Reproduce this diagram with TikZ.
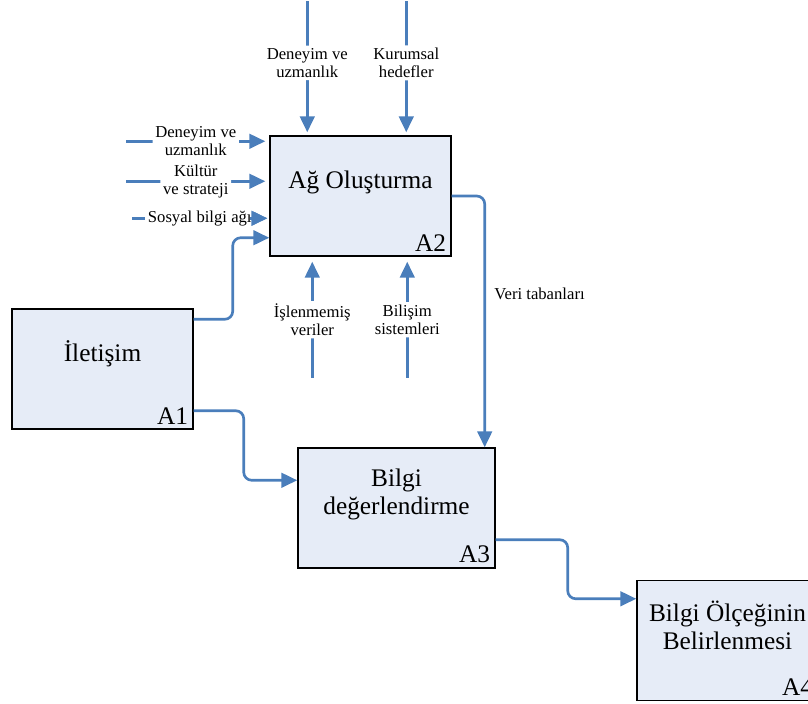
\documentclass[tikz,border=0pt]{standalone}
\usepackage{fontspec}
\setmainfont{Liberation Serif}
\usetikzlibrary{arrows.meta,calc,positioning}

\definecolor{flowblue}{HTML}{4A7EBB}
\definecolor{boxfill}{HTML}{E6ECF7}

\tikzset{
	actbox/.style={draw=black, line width=1.1pt, fill=boxfill, minimum width=181*0.75pt, minimum height=120*0.75pt, inner sep=0pt},
	acttitle/.style={align=center, font=\fontsize{19}{21}\selectfont},
	actnum/.style={anchor=south east, inner sep=4pt, font=\fontsize{19}{21}\selectfont},
	flow/.style={draw=flowblue, line width=2pt, rounded corners=6pt, -{Triangle[length=12pt,width=11pt]}},
	ctrl/.style={fill=white, align=center, inner sep=2pt, font=\fontsize{12.5}{13.5}\selectfont},
}

\begin{document}
\begin{tikzpicture}[x=0.75pt, y=-0.75pt]
			\clip (0,0) rectangle (808,704);
			
			% activity boxes
			\node[actbox] (ag) at (360.5,196) {};
			\node[actbox] (il) at (102.5,369) {};
			\node[actbox, minimum width=197*0.75pt] (bd) at (396.5,508) {};
			\node[actbox] (bo) at (727.5,640.5) {};
			
			\node[acttitle] (agt) at ($(ag.center)+(0,-14)$) {Ağ Oluşturma};
			\node[acttitle] (ilt) at ($(il.center)+(0,-15)$) {İletişim};
			\node[acttitle] (bdt) at ($(bd.center)+(0,-14)$) {Bilgi\\değerlendirme};
			\node[acttitle] (bot) at ($(bo.center)+(0,-15)$) {Bilgi Ölçeğinin\\Belirlenmesi};
			
			\node[actnum] (agn) at (ag.south east) {A2};
			\node[actnum] (iln) at (il.south east) {A1};
			\node[actnum] (bdn) at (bd.south east) {A3};
			\node[actnum] (bon) at (bo.south east) {A4};
			
			% free ends of the inputs
			\coordinate (topa) at ($(ag.north west)+(38,-134)$);
			\coordinate (topb) at ($(ag.north west)+(137,-134)$);
			\coordinate (lefta) at ($(ag.north west)+(-143,6)$);
			\coordinate (leftb) at ($(ag.north west)+(-143,46)$);
			\coordinate (leftc) at ($(ag.north west)+(-137,83)$);
			\coordinate (bota) at ($(ag.south west)+(43,121)$);
			\coordinate (botb) at ($(ag.south west)+(138,121)$);
			
			\draw[flow] (topa) -- node[ctrl, pos=0.47] (cdu) {Deneyim ve\\uzmanlık} ($(ag.north west)+(38,-3)$);
			\draw[flow] (topb) -- node[ctrl, pos=0.47] (ckh) {Kurumsal\\hedefler} ($(ag.north west)+(137,-3)$);
			
			\draw[flow] (lefta) -- node[ctrl] (ldu) {Deneyim ve\\uzmanlık} ($(ag.north west)+(-4,6)$);
			\draw[flow] (leftb) -- node[ctrl] (lks) {Kültür\\ve strateji} ($(ag.north west)+(-4,46)$);
			\draw[flow] (leftc) -- node[ctrl] (lsb) {Sosyal bilgi ağı} ($(ag.north west)+(-2,83)$);
			% tip over the label
			\draw[flow, shorten <=118*0.75pt] (leftc) -- ($(ag.north west)+(-2,83)$);
			
			\draw[flow] (bota) -- node[ctrl] (bil) {İşlenmemiş\\veriler} ($(ag.south west)+(43,5)$);
			\draw[flow] (botb) -- node[ctrl] (bbs) {Bilişim\\sistemleri} ($(ag.south west)+(138,5)$);
			
			% links between the activities
			\draw[flow] ($(il.north east)+(0,11)$) -- ++(39,0) |- ($(ag.south west)+(0,-19)$);
			\draw[flow] ($(il.south east)+(0,-19)$) -- ++(50,0) |- ($(bd.north west)+(0,33)$);
			\draw[flow] (ag.east) -| ($(bd.north east)+(-11,0)$);
			\draw[flow] ($(bd.south east)+(0,-29)$) -- ++(72,0) |- ($(bo.north west)+(0,19)$);
			
			\node[anchor=west, font=\fontsize{12.5}{13.5}\selectfont] (vt) at ($(ag.east)+(38,98)$) {Veri tabanları};
		\end{tikzpicture}
\end{document}
